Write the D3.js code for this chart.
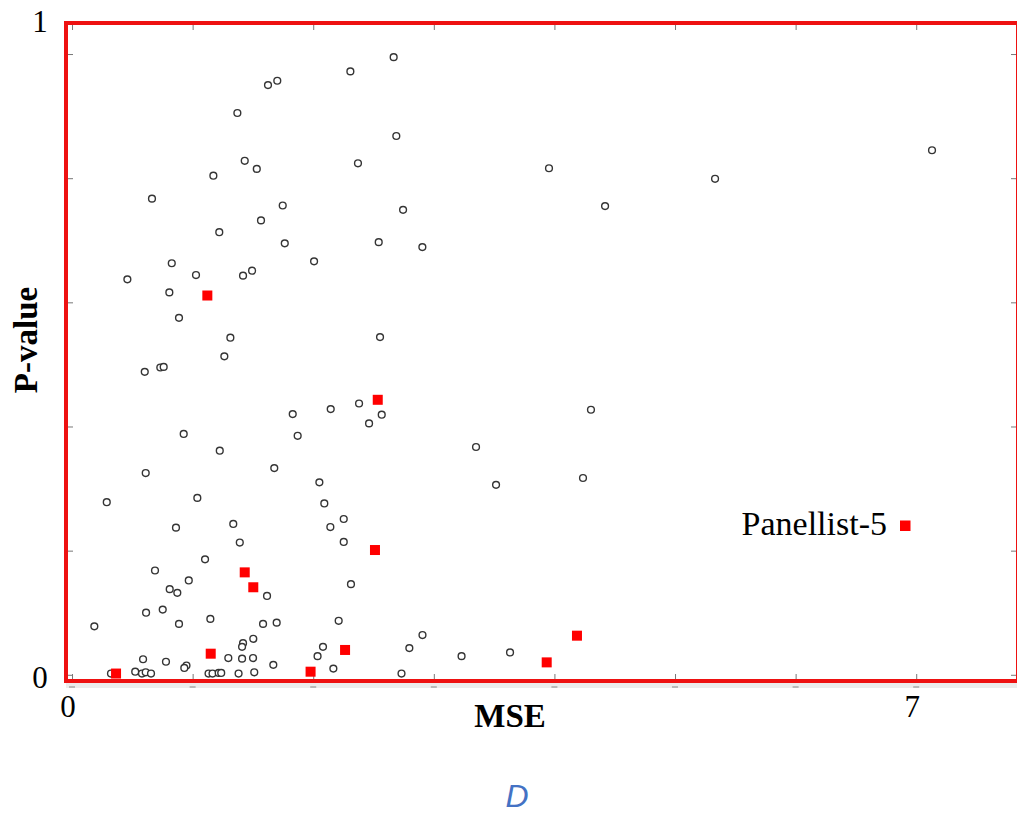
<!DOCTYPE html>
<html>
<head>
<meta charset="utf-8">
<script src="https://cdn.jsdelivr.net/npm/d3@7"></script>
<style>
  html, body { margin: 0; padding: 0; background: #fff; }
  svg { display: block; }
</style>
</head>
<body>
<svg id="chart" width="1017" height="814"></svg>
<script>
// ---- data ----
const mseOther = [1.625,1.702,1.371,1.432,1.532,1.172,0.663,1.747,1.567,1.221,1.764,0.827,1.028,1.418,1.493,0.459,0.807,0.887,1.313,
  2.667,2.308,2.689,2.371,2.745,2.543,2.905,2.007,2.554,1.263,0.603,0.732,0.760,0.926,1.225,0.611,1.677,0.288,1.039,0.862,1.337,
  1.391,1.103,0.688,0.968,0.810,0.873,1.617,0.614,0.752,1.147,0.887,0.185,1.584,1.697,1.503,1.418,1.410,0.589,0.779,1.296,1.410,
  1.501,1.669,0.949,0.931,0.323,0.524,0.580,0.611,0.655,1.132,1.165,1.216,1.237,1.381,1.511,1.830,2.145,2.380,2.568,2.463,1.871,
  3.350,2.051,3.516,2.092,2.253,2.142,2.253,2.313,2.211,2.906,2.081,2.797,2.036,3.230,2.167,2.732,3.632,3.955,4.420,5.332,7.131,
  4.303,4.237];
const pOther = [0.950,0.957,0.905,0.828,0.815,0.804,0.767,0.756,0.732,0.713,0.695,0.663,0.644,0.643,0.651,0.637,0.616,0.575,0.543,
  0.995,0.972,0.868,0.824,0.749,0.697,0.689,0.666,0.544,0.513,0.488,0.495,0.496,0.388,0.361,0.325,0.333,0.278,0.285,0.237,0.243,
  0.213,0.186,0.168,0.152,0.138,0.132,0.127,0.100,0.105,0.090,0.082,0.078,0.082,0.084,0.058,0.051,0.045,0.025,0.021,0.027,0.026,
  0.027,0.016,0.015,0.011,0.002,0.005,0.002,0.004,0.002,0.002,0.002,0.003,0.003,0.002,0.004,0.420,0.428,0.437,0.419,0.405,0.385,
  0.367,0.310,0.306,0.276,0.251,0.238,0.214,0.146,0.087,0.064,0.045,0.043,0.030,0.030,0.010,0.002,0.036,0.816,0.755,0.799,0.845,
  0.427,0.317];
const mseP5 = [0.365,1.122,1.432,1.503,1.150,1.978,2.264,2.535,2.512,3.936,4.187];
const pP5   = [0.002,0.611,0.165,0.141,0.034,0.005,0.040,0.443,0.201,0.020,0.063];
const xTicks = [0,1,2,3,4,5,6,7];
const yTicks = [0,0.2,0.4,0.6,0.8,1];
const xTickLabels = [{v:0,t:"0"},{v:7,t:"7"}];
const yTickLabels = ["0","1"];
const xTitle = "MSE";
const yTitle = "P-value";
const legendLabel = "Panellist-5";
const panelLabel = "D";

// ---- layout ----
const L = 66, R = 1018, T = 23, B = 681;
const x = d3.scaleLinear().domain([-0.05, 7.844]).range([L, R]);
const y = d3.scaleLinear().domain([-0.01, 1.05]).range([B, T]);

const svg = d3.select("#chart");
const serif = "'Liberation Serif', 'Times New Roman', serif";

// light grey band under bottom axis
svg.append("rect").attr("x", L).attr("y", B + 2).attr("width", 1017 - L).attr("height", 5).attr("fill", "#ececec");
// small dashes below band at tick positions
svg.append("g").selectAll("line").data(xTicks).join("line")
  .attr("x1", d => x(d) - 3).attr("x2", d => x(d) + 3)
  .attr("y1", B + 6).attr("y2", B + 6)
  .attr("stroke", "#888").attr("stroke-width", 1);

// inner ticks via axes
function styleAxis(g) {
  g.select(".domain").remove();
  g.selectAll(".tick line").attr("stroke", "#777").attr("stroke-width", 1);
  g.selectAll(".tick text").remove();
}
svg.append("g").attr("transform", `translate(0,${B - 2})`)
  .call(d3.axisBottom(x).tickValues(xTicks).tickSize(-5).tickFormat("")).call(styleAxis);
svg.append("g").attr("transform", `translate(0,${T + 2})`)
  .call(d3.axisTop(x).tickValues(xTicks).tickSize(-5).tickFormat("")).call(styleAxis);
svg.append("g").attr("transform", `translate(${L + 2},0)`)
  .call(d3.axisLeft(y).tickValues(yTicks).tickSize(-5).tickFormat("")).call(styleAxis);
svg.append("g").attr("transform", `translate(${1016},0)`)
  .call(d3.axisRight(y).tickValues(yTicks).tickSize(-5).tickFormat("")).call(styleAxis);

// circles
const others = mseOther.map((m, i) => ({m, p: pOther[i]}));
svg.append("g").selectAll("circle").data(others).join("circle")
  .attr("cx", d => x(d.m)).attr("cy", d => y(d.p)).attr("r", 3.4)
  .attr("fill", "#fff").attr("stroke", "#353535").attr("stroke-width", 1.4);

// red squares
const p5 = mseP5.map((m, i) => ({m, p: pP5[i]}));
const S = 10;
svg.append("g").selectAll("rect").data(p5).join("rect")
  .attr("x", d => x(d.m) - S / 2).attr("y", d => y(d.p) - S / 2)
  .attr("width", S).attr("height", S).attr("fill", "#ff0000");

// frame
svg.append("rect").attr("x", L).attr("y", T).attr("width", R - L).attr("height", B - T)
  .attr("fill", "none").attr("stroke", "#ee1111").attr("stroke-width", 4);

// tick labels
svg.append("g").selectAll("text").data(xTickLabels).join("text")
  .attr("x", d => x(d.v) - 4).attr("y", 717)
  .attr("text-anchor", "middle").attr("font-family", serif).attr("font-size", 31)
  .attr("fill", "#000").text(d => d.t);
svg.append("g").selectAll("text").data(yTickLabels).join("text")
  .attr("x", 40).attr("y", (d, i) => i === 0 ? y(0) + 13 : y.range()[1] + 9)
  .attr("text-anchor", "middle").attr("font-family", serif).attr("font-size", 31)
  .attr("fill", "#000").text(d => d);

// axis titles
svg.append("text").attr("x", 510).attr("y", 727).attr("text-anchor", "middle")
  .attr("font-family", serif).attr("font-weight", "bold").attr("font-size", 33).text(xTitle);
svg.append("text").attr("transform", `translate(37,${340}) rotate(-90)`).attr("text-anchor", "middle")
  .attr("font-family", serif).attr("font-weight", "bold").attr("font-size", 33).text(yTitle);

// legend
svg.append("text").attr("x", 887).attr("y", 535).attr("text-anchor", "end")
  .attr("font-family", serif).attr("font-size", 34).attr("fill", "#000").text(legendLabel);
svg.append("rect").attr("x", 900).attr("y", 520.5).attr("width", 10.5).attr("height", 10.5).attr("fill", "#ff0000");

// panel label
svg.append("text").attr("x", 517).attr("y", 807).attr("text-anchor", "middle")
  .attr("font-family", "'Liberation Sans', sans-serif").attr("font-style", "italic")
  .attr("font-size", 32).attr("fill", "#4472c4").text(panelLabel);
</script>
</body>
</html>
